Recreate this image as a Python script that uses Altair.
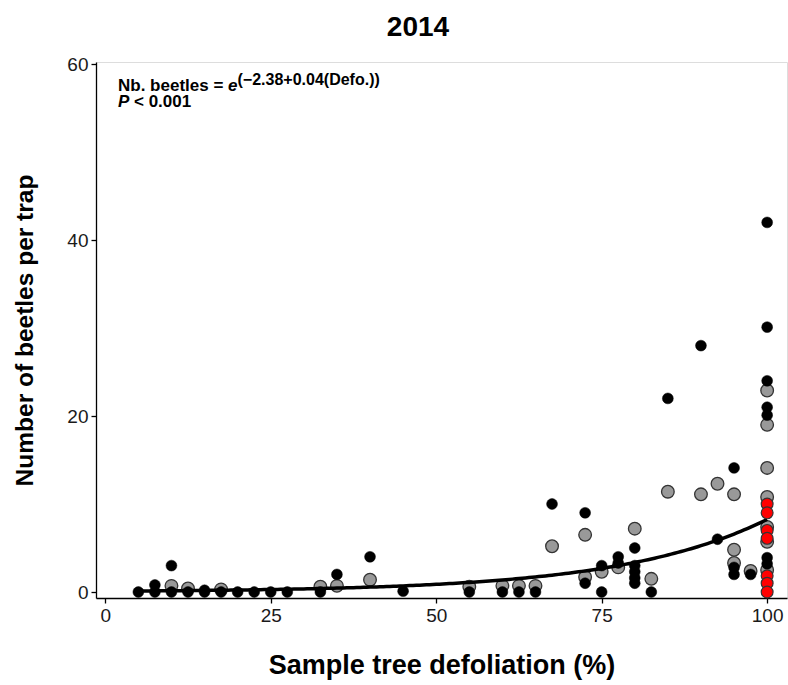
import altair as alt
import numpy as np
import pandas as pd

# Traps without the treatment (black), with it (grey) and highlighted traps (red)
black_x = [5, 7.5, 7.5, 10, 10, 12.5, 15, 15, 17.5, 20, 22.5, 25, 27.5, 32.5,
           35, 40, 45, 55, 60, 62.5, 65, 67.5, 72.5, 72.5, 75, 75, 77.5, 77.5,
           80, 80, 80, 80, 80, 82.5, 85, 90, 92.5, 95, 95, 95, 97.5,
           100, 100, 100, 100, 100, 100, 100]
black_y = [0, 0, 0.8, 3, 0, 0, 0, 0.2, 0, 0, 0, 0, 0, 0,
           2, 4, 0.1, 0, 0, 0, 0, 10, 9, 1.0, 3.0, 0, 4.0, 3.3,
           5.0, 3.0, 2.3, 1.6, 1.0, 0, 22, 28, 6.0, 14.1, 2.8, 2.0, 2.0,
           42, 30.1, 24, 21, 20.1, 3.9, 3.2]

grey_x = [10, 12.5, 17.5, 32.5, 35, 40, 55, 60, 62.5, 65, 67.5, 72.5, 72.5,
          75, 77.5, 80, 82.5, 85, 90, 92.5, 95, 95, 95, 97.5,
          100, 100, 100, 100, 100, 100, 100]
grey_y = [0.7, 0.4, 0.3, 0.6, 0.7, 1.4, 0.6, 0.7, 0.7, 0.7, 5.2, 6.5, 1.7,
          2.3, 2.8, 7.2, 1.5, 11.4, 11.1, 12.3, 11.1, 4.8, 3.3, 2.4,
          22.9, 19.0, 14.1, 10.8, 7.4, 5.7, 2.5]

red_x = [100, 100, 100, 100, 100, 100, 100]
red_y = [10.0, 9.0, 7.0, 6.1, 1.85, 1.0, 0.0]

# Fitted model: Nb. beetles = exp(a + b * defoliation)
coef_a = -2.38
coef_b = 0.0449
fit_x = np.arange(5, 100.25, 0.5)
fit = pd.DataFrame({"x": fit_x, "y": np.exp(coef_a + coef_b * fit_x)})

black = pd.DataFrame({"x": black_x, "y": black_y})
grey = pd.DataFrame({"x": grey_x, "y": grey_y})
red = pd.DataFrame({"x": red_x, "y": red_y})

FONT = "Liberation Sans"

x_enc = alt.X(
    "x:Q",
    scale=alt.Scale(domain=[-1.4, 103.0], nice=False, zero=False),
    axis=alt.Axis(
        values=[0, 25, 50, 75, 100], title="Sample tree defoliation (%)",
        grid=False, domainColor="black", domainWidth=1.3, tickColor="black",
        tickWidth=1.3, tickSize=5, labelFontSize=19, labelColor="#1a1a1a",
        labelPadding=3, labelFont=FONT, titleFont=FONT, titleFontSize=27,
        titleFontWeight="bold", titleColor="black", titleY=75,
        titleBaseline="alphabetic",
    ),
)
y_enc = alt.Y(
    "y:Q",
    scale=alt.Scale(domain=[-0.68, 60.23], nice=False, zero=False),
    axis=alt.Axis(
        values=[0, 20, 40, 60], title="Number of beetles per trap",
        grid=False, domainColor="black", domainWidth=1.3, tickColor="black",
        tickWidth=1.3, tickSize=5, labelFontSize=19, labelColor="#1a1a1a",
        labelPadding=3, labelFont=FONT, titleFont=FONT, titleFontSize=24.5,
        titleFontWeight="bold", titleColor="black", titleX=-71,
        titleBaseline="middle",
    ),
)

grey_pts = alt.Chart(grey).mark_point(
    shape="circle", filled=True, size=160, fill="#999999",
    stroke="#333333", strokeWidth=1.3, opacity=1,
).encode(x=x_enc, y=y_enc)

fit_line = alt.Chart(fit).mark_line(color="black", strokeWidth=3.5).encode(
    x=x_enc, y=y_enc
)

black_pts = alt.Chart(black).mark_point(
    shape="circle", filled=True, size=118, fill="black",
    stroke="black", strokeWidth=0.5, opacity=1,
).encode(x=x_enc, y=y_enc)

red_pts = alt.Chart(red).mark_point(
    shape="circle", filled=True, size=140, fill="#ff0000",
    stroke="#333333", strokeWidth=1.2, opacity=1,
).encode(x=x_enc, y=y_enc)

# Equation, p-value and panel title, placed in view pixels
exponent = f"(\u2212{abs(coef_a):.2f}+{coef_b:.2f}(Defo.))"
ann = [
    # text, x, y, style, size
    ("Nb. beetles = ", 22, 28.5, "normal", 17),
    ("e", 132, 28.5, "italic", 17),
    (exponent, 141.5, 22.5, "normal", 16),
    ("P", 22, 44.5, "italic", 17),
    ("< 0.001", 38, 44.5, "normal", 17),
    ("2014", 322, -26, "normal", 28),
]
ann_layers = []
for text, px, py, style, size in ann:
    ann_layers.append(
        alt.Chart(pd.DataFrame({"t": [text]})).mark_text(
            align="center" if text == "2014" else "left",
            baseline="alphabetic", font=FONT, fontSize=size,
            fontWeight="bold", fontStyle=style, color="black",
        ).encode(x=alt.value(px), y=alt.value(py), text="t:N")
    )

chart = alt.layer(grey_pts, fit_line, black_pts, red_pts, *ann_layers).properties(
    width=691,
    height=536,
    padding={"left": 96, "top": 62, "right": 1, "bottom": 87},
    autosize=alt.AutoSizeParams(type="none"),
).configure_view(stroke=None).configure(background="white")

chart.save("out.html", embed_options={"renderer": "svg", "actions": False})
